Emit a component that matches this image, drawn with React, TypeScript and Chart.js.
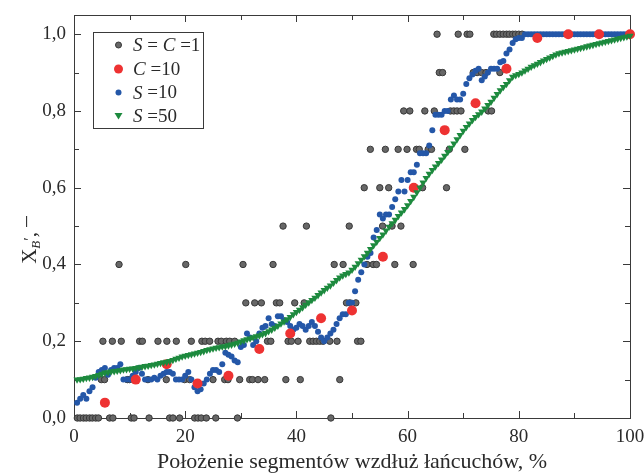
import React, { useEffect, useRef } from "react";
import { Chart, registerables } from "chart.js";
Chart.register(...registerables);

const W = 644;
const H = 473;

// ---------- axis ticks ----------
const xTicks = [0, 20, 40, 60, 80, 100];
const xMinorTicks = [10, 30, 50, 70, 90];
const yTicks = [0, 0.2, 0.4, 0.6, 0.8, 1.0];
const yMinorTicks = [0.1, 0.3, 0.5, 0.7, 0.9];

const xTitle = "Położenie segmentów wzdłuż łańcuchów, %";

// ---------- series: C = 10 (red) ----------
const redX = [5.56, 11.11, 16.67, 22.22, 27.78, 33.33, 38.89, 44.44, 50, 55.56, 61.11, 66.67, 72.22, 77.78, 83.33, 88.89, 94.44, 100];
const redY = [0.04, 0.10, 0.14, 0.09, 0.11, 0.18, 0.22, 0.26, 0.28, 0.42, 0.60, 0.75, 0.82, 0.91, 0.99, 1.0, 1.0, 1.0];

// ---------- series: S = 10 (blue), one value per segment (180 segments) ----------
const blueY = [
  0.04, 0.05, 0.06, 0.05, 0.07, 0.08, 0.105, 0.12, 0.125, 0.13,
  0.113, 0.125, 0.13, 0.13, 0.14, 0.10, 0.10, 0.10, 0.11, 0.12,
  0.13, 0.115, 0.10, 0.10, 0.10, 0.105, 0.10, 0.11, 0.115, 0.12,
  0.12, 0.115, 0.10, 0.10, 0.10, 0.11, 0.12, 0.10, 0.08, 0.07,
  0.075, 0.09, 0.10, 0.115, 0.125, 0.125, 0.12, 0.14, 0.17, 0.165,
  0.16, 0.15, 0.145, 0.185, 0.19, 0.22, 0.21, 0.19, 0.20, 0.22,
  0.235, 0.24, 0.26, 0.245, 0.24, 0.265, 0.265, 0.255, 0.25, 0.24,
  0.23, 0.235, 0.245, 0.24, 0.23, 0.24, 0.25, 0.24, 0.225, 0.21,
  0.20, 0.21, 0.22, 0.23, 0.245, 0.26, 0.27, 0.27, 0.30, 0.30,
  0.33, 0.36, 0.38, 0.40, 0.42, 0.43, 0.47, 0.49, 0.53, 0.52,
  0.53, 0.53, 0.55, 0.57, 0.59, 0.62, 0.59, 0.62, 0.64, 0.64,
  0.66, 0.69, 0.69, 0.69, 0.71, 0.75, 0.79, 0.79, 0.79, 0.80,
  0.80, 0.83, 0.84, 0.83, 0.83, 0.845, 0.87, 0.885, 0.895, 0.905,
  0.91, 0.88, 0.89, 0.90, 0.91, 0.91, 0.91, 0.927, 0.93, 0.95,
  0.96, 0.977, 0.987, 0.99, 0.99, 1.0, 1.0, 1.0, 1.0, 1.0,
  1.0, 1.0, 1.0, 1.0, 1.0, 1.0, 1.0, 1.0, 1.0, 1.0,
  1.0, 1.0, 1.0, 1.0, 1.0, 1.0, 1.0, 1.0, 1.0, 1.0,
  1.0, 1.0, 1.0, 1.0, 1.0, 1.0, 1.0, 1.0, 1.0, 1.0,
];

// ---------- series: S = 50 (green), one value per segment ----------
const greenY = [
  0.100, 0.101, 0.102, 0.104, 0.105, 0.107, 0.109, 0.112, 0.115, 0.118,
  0.119, 0.121, 0.122, 0.123, 0.124, 0.126, 0.127, 0.128, 0.129, 0.130,
  0.132, 0.133, 0.135, 0.136, 0.138, 0.139, 0.141, 0.143, 0.145, 0.146,
  0.148, 0.151, 0.154, 0.157, 0.160, 0.162, 0.164, 0.166, 0.168, 0.170,
  0.172, 0.174, 0.177, 0.179, 0.181, 0.183, 0.184, 0.186, 0.187, 0.189,
  0.191, 0.193, 0.196, 0.199, 0.202, 0.205, 0.207, 0.210, 0.213, 0.215,
  0.218, 0.221, 0.226, 0.230, 0.235, 0.240, 0.246, 0.251, 0.257, 0.263,
  0.270, 0.276, 0.282, 0.288, 0.295, 0.301, 0.307, 0.313, 0.320, 0.327,
  0.333, 0.339, 0.345, 0.352, 0.359, 0.366, 0.371, 0.375, 0.379, 0.386,
  0.394, 0.403, 0.412, 0.421, 0.430, 0.440, 0.450, 0.459, 0.469, 0.478,
  0.488, 0.498, 0.507, 0.516, 0.526, 0.535, 0.544, 0.554, 0.565, 0.576,
  0.588, 0.600, 0.613, 0.625, 0.636, 0.646, 0.655, 0.664, 0.673, 0.683,
  0.693, 0.704, 0.715, 0.726, 0.737, 0.748, 0.758, 0.767, 0.776, 0.784,
  0.791, 0.798, 0.806, 0.815, 0.824, 0.834, 0.844, 0.854, 0.862, 0.870,
  0.880, 0.889, 0.893, 0.896, 0.900, 0.905, 0.910, 0.915, 0.919, 0.923,
  0.927, 0.931, 0.935, 0.939, 0.943, 0.947, 0.950, 0.952, 0.954, 0.956,
  0.958, 0.960, 0.962, 0.964, 0.966, 0.968, 0.970, 0.972, 0.974, 0.976,
  0.978, 0.980, 0.982, 0.984, 0.986, 0.988, 0.990, 0.992, 0.994, 0.996,
];

// segment positions along the chain (180 segments -> 0..100 %)
const segmentCount = 180;
const segX = Array.from({ length: segmentCount }, (_, i) => ((i + 1) * 100) / segmentCount);

// ---------- series: S = C = 1 (gray), x positions per discrete level ----------
const grayLevels = [0, 0.1, 0.2, 0.3, 0.4, 0.5, 0.6, 0.7, 0.8, 0.9, 1.0];
const grayX00 = [0.6, 1.1, 1.7, 2.2, 2.8, 3.3, 3.9, 4.4, 6.4, 7.0, 10.3, 10.8, 13.5, 17.2, 17.8, 19.0, 21.7, 22.3, 22.9, 23.8, 25.5, 29.4, 46.2];
const grayX01 = [4.9, 5.5, 9.6, 10.0, 13.3, 16.6, 19.9, 20.8, 25.0, 27.1, 27.7, 29.8, 31.6, 32.1, 33.1, 34.3, 38.1, 40.7, 47.8];
const grayX02 = [5.2, 6.9, 8.5, 11.8, 12.3, 15.1, 16.7, 18.4, 21.1, 23.0, 23.6, 24.4, 25.9, 26.5, 27.4, 28.0, 28.9, 34.8, 35.4, 38.5, 39.1, 40.3, 42.4, 43.0, 43.6, 44.2, 44.8, 46.0, 47.3, 51.0, 51.6];
const grayX03 = [30.9, 32.5, 33.7, 36.4, 37.0, 39.7, 41.4, 49.0, 49.6, 50.7];
const grayX04 = [8.1, 20.1, 30.4, 35.8, 46.8, 48.4, 52.7, 53.8, 54.4, 57.7, 61.0];
const grayX05 = [37.6, 41.8, 49.5, 55.5, 57.2, 58.8];
const grayX06 = [52.2, 55.0, 56.6, 62.7, 67.0];
const grayX07 = [53.3, 56.0, 58.3, 59.9, 61.6, 62.1, 63.7, 64.3, 67.5, 70.3];
const grayX08 = [59.3, 60.4, 63.1, 64.8, 67.7, 68.3, 68.9, 69.6, 74.5, 75.1];
const grayX09 = [65.7, 66.3, 71.8, 72.5, 73.3, 74.1, 76.6];
const grayX10 = [65.3, 69.1, 70.7, 71.2, 75.5, 76.0, 76.6, 77.2, 77.8, 78.3, 78.9, 79.4, 80.0, 80.6];
const grayXByLevel = [grayX00, grayX01, grayX02, grayX03, grayX04, grayX05, grayX06, grayX07, grayX08, grayX09, grayX10];

// ---------- styling ----------
const FONT = "'Liberation Serif', 'Times New Roman', serif";
const TEXT = "#2a2a2a";
const FRAME = "#3a3a3a";
const GRAY_FILL = "#676767";
const GRAY_EDGE = "#383838";
const RED = "#ee3232";
const BLUE = "#2457a8";
const GREEN = "#1d8a3e";

const fmt = (v: number) => v.toFixed(1).replace(".", ",");

const decor = {
  id: "decor",
  beforeDatasetsDraw(chart: any) {
    const { ctx, chartArea: a, scales } = chart;
    const xs = scales.x;
    const ys = scales.y;
    ctx.save();
    ctx.strokeStyle = FRAME;
    ctx.lineWidth = 1;
    ctx.strokeRect(Math.round(a.left) + 0.5, Math.round(a.top) + 0.5, Math.round(a.right - a.left), Math.round(a.bottom - a.top));
    ctx.beginPath();
    const xt = (v: number, len: number) => {
      const p = Math.round(xs.getPixelForValue(v)) + 0.5;
      ctx.moveTo(p, a.bottom);
      ctx.lineTo(p, a.bottom - len);
      ctx.moveTo(p, a.top);
      ctx.lineTo(p, a.top + len);
    };
    const yt = (v: number, len: number) => {
      const p = Math.round(ys.getPixelForValue(v)) + 0.5;
      ctx.moveTo(a.left, p);
      ctx.lineTo(a.left + len, p);
      ctx.moveTo(a.right, p);
      ctx.lineTo(a.right - len, p);
    };
    xTicks.forEach((v) => xt(v, 7));
    xMinorTicks.forEach((v) => xt(v, 5));
    yTicks.forEach((v) => yt(v, 7));
    yMinorTicks.forEach((v) => yt(v, 5));
    ctx.stroke();
    ctx.restore();
  },
  afterDraw(chart: any) {
    const { ctx, chartArea: a } = chart;
    ctx.save();
    // x title
    ctx.fillStyle = TEXT;
    ctx.font = `22px ${FONT}`;
    ctx.textAlign = "center";
    ctx.textBaseline = "alphabetic";
    ctx.fillText(xTitle, (a.left + a.right) / 2, 468);

    // y title: X_B', –  (rotated)
    ctx.save();
    ctx.translate(36, 240);
    ctx.rotate(-Math.PI / 2);
    const partsY: [string, string, number][] = [
      ["X", `21px ${FONT}`, 0],
      ["B", `italic 13px ${FONT}`, 4],
      ["′", `16px ${FONT}`, -1],
      [", ", `21px ${FONT}`, 0],
      ["–", `21px ${FONT}`, -4],
    ];
    let total = 0;
    partsY.forEach(([t, f]) => {
      ctx.font = f;
      total += ctx.measureText(t).width;
    });
    let cx = -total / 2;
    ctx.textAlign = "left";
    partsY.forEach(([t, f, dy]) => {
      ctx.font = f;
      ctx.fillText(t, cx, dy);
      cx += ctx.measureText(t).width;
    });
    ctx.restore();

    // legend
    const lx = 93.5, ly = 32.5, lw = 110, lh = 96;
    ctx.fillStyle = "#fff";
    ctx.fillRect(lx, ly, lw, lh);
    ctx.strokeStyle = FRAME;
    ctx.lineWidth = 1;
    ctx.strokeRect(lx, ly, lw, lh);
    const rows: { parts: [string, boolean][]; kind: string }[] = [
      { parts: [["S", true], [" = ", false], ["C", true], [" =1", false]], kind: "gray" },
      { parts: [["C", true], [" =10", false]], kind: "red" },
      { parts: [["S", true], [" =10", false]], kind: "blue" },
      { parts: [["S", true], [" =50", false]], kind: "green" },
    ];
    const rowY = [45, 69, 92.5, 116];
    rows.forEach((r, i) => {
      const y = rowY[i];
      const mx = 118.5;
      ctx.beginPath();
      if (r.kind === "gray") {
        ctx.arc(mx, y, 3, 0, Math.PI * 2);
        ctx.fillStyle = GRAY_FILL;
        ctx.fill();
        ctx.strokeStyle = GRAY_EDGE;
        ctx.stroke();
      } else if (r.kind === "red") {
        ctx.arc(mx, y, 4.5, 0, Math.PI * 2);
        ctx.fillStyle = RED;
        ctx.fill();
      } else if (r.kind === "blue") {
        ctx.arc(mx, y, 3, 0, Math.PI * 2);
        ctx.fillStyle = BLUE;
        ctx.fill();
      } else {
        ctx.moveTo(mx - 4, y - 3);
        ctx.lineTo(mx + 4, y - 3);
        ctx.lineTo(mx, y + 3.5);
        ctx.closePath();
        ctx.fillStyle = GREEN;
        ctx.fill();
      }
      let tx = 133;
      ctx.fillStyle = TEXT;
      ctx.textAlign = "left";
      ctx.textBaseline = "middle";
      r.parts.forEach(([t, it]) => {
        ctx.font = `${it ? "italic " : ""}19px ${FONT}`;
        ctx.fillText(t, tx, y + 1);
        tx += ctx.measureText(t).width;
      });
    });
    ctx.restore();
  },
};

export default function App() {
  const ref = useRef<HTMLCanvasElement>(null);
  useEffect(() => {
    const canvas = ref.current!;
    const grayData: { x: number; y: number }[] = [];
    grayXByLevel.forEach((xsArr, li) => xsArr.forEach((x) => grayData.push({ x, y: grayLevels[li] })));
    const chart = new Chart(canvas, {
      type: "scatter",
      data: {
        datasets: [
          {
            label: "S = C =1",
            data: grayData,
            backgroundColor: GRAY_FILL,
            borderColor: GRAY_EDGE,
            borderWidth: 1,
            pointRadius: 3.2,
            order: 4,
            clip: false,
          },
          {
            label: "C =10",
            data: redX.map((x, i) => ({ x, y: redY[i] })),
            backgroundColor: RED,
            borderWidth: 0,
            pointRadius: 5,
            order: 2,
            clip: false,
          },
          {
            label: "S =10",
            data: segX.map((x, i) => ({ x, y: blueY[i] })),
            backgroundColor: BLUE,
            borderWidth: 0,
            pointRadius: 3,
            order: 3,
            clip: false,
          },
          {
            label: "S =50",
            data: segX.map((x, i) => ({ x, y: greenY[i] })),
            backgroundColor: GREEN,
            borderWidth: 0,
            pointStyle: "triangle",
            rotation: 180,
            pointRadius: 4.2,
            order: 1,
            clip: false,
          },
        ] as any,
      },
      options: {
        responsive: false,
        animation: false,
        devicePixelRatio: 1,
        layout: { padding: { left: 0, top: 15, right: 14, bottom: 0 } },
        plugins: { legend: { display: false }, tooltip: { enabled: false } },
        scales: {
          x: {
            type: "linear",
            min: 0,
            max: 100,
            grid: { display: false, drawTicks: false },
            border: { display: false },
            afterBuildTicks: (s: any) => {
              s.ticks = xTicks.map((v) => ({ value: v }));
            },
            afterFit: (s: any) => {
              s.height = 55;
              s.paddingLeft = 0;
              s.paddingRight = 0;
            },
            ticks: {
              color: TEXT,
              font: { family: FONT, size: 19 },
              padding: 8,
              maxRotation: 0,
              autoSkip: false,
              callback: (v: any) => String(v),
            },
          },
          y: {
            type: "linear",
            min: 0,
            max: 1.05,
            grid: { display: false, drawTicks: false },
            border: { display: false },
            afterBuildTicks: (s: any) => {
              s.ticks = yTicks.map((v) => ({ value: v }));
            },
            afterFit: (s: any) => {
              s.width = 74;
              s.paddingTop = 0;
              s.paddingBottom = 0;
            },
            ticks: {
              color: TEXT,
              font: { family: FONT, size: 19 },
              padding: 8,
              autoSkip: false,
              callback: (v: any) => fmt(Number(v)),
            },
          },
        },
      } as any,
      plugins: [decor],
    });
    return () => chart.destroy();
  }, []);
  return (
    <div style={{ position: "fixed", left: 0, top: 0, width: W, height: H, background: "#fff" }}>
      <canvas ref={ref} width={W} height={H} style={{ display: "block", width: W, height: H }} />
    </div>
  );
}
